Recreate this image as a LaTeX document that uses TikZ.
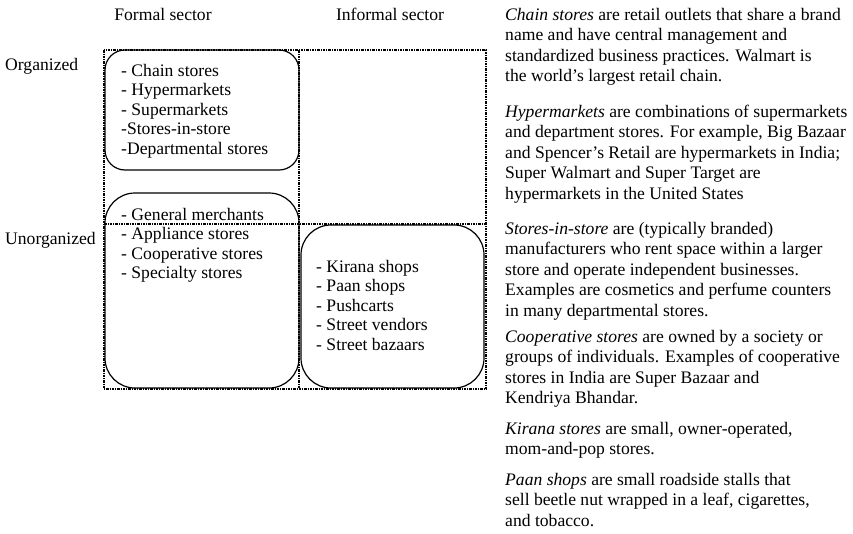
\documentclass[tikz,border=0pt]{standalone}
\usepackage{fontspec}
\setmainfont{Liberation Serif}
\begin{document}
\tikzset{
 gridline/.style={line width=1.1pt, dash pattern=on 2.5pt off 1pt on 1pt off 1pt},
 roundbox/.style={draw, line width=1.2pt, rounded corners=#1, inner sep=0pt, outer sep=0pt},
 listtxt/.style={font=\fontsize{17.6}{19.5}\selectfont, anchor=base west, align=left, inner sep=0pt},
 paratxt/.style={font=\fontsize{17.6}{20.5}\selectfont, anchor=base west, align=left, inner sep=0pt},
 headtxt/.style={font=\fontsize{17.6}{19.5}\selectfont, inner sep=0pt},
}
\begin{tikzpicture}[x=1pt,y=-1pt]
\useasboundingbox (0,0) rectangle (853,533);
% grid
\coordinate (g1) at (104,50);
\coordinate (g2) at (486,389);
\draw[gridline] (g1) rectangle (g2);
\draw[gridline] (299,50) -- (299,389);
\draw[gridline] (104,224) -- (486,224);
% boxes
\node[roundbox=20pt, minimum width=194pt, minimum height=120pt] (b1) at (202,110) {};
\node[roundbox=30pt, minimum width=194pt, minimum height=195pt] (b2) at (202,290.5) {};
\node[roundbox=30pt, minimum width=183pt, minimum height=163pt] (b3) at (392.5,306.5) {};
% lists (anchor = baseline of last line)
\node[listtxt] (l1) at (121,154) {- Chain stores\\- Hypermarkets\\- Supermarkets\\-Stores-in-store\\-Departmental stores};
\node[listtxt] (l2) at (121,278.5) {- General merchants\\- Appliance stores\\- Cooperative stores\\- Specialty stores};
\node[listtxt] (l3) at (316,350) {- Kirana shops\\- Paan shops\\- Pushcarts\\- Street vendors\\- Street bazaars};
% headers
\node[headtxt, anchor=base] (hf) at (163,20) {Formal sector};
\node[headtxt, anchor=base] (hi) at (390,20) {Informal sector};
\node[headtxt, anchor=base west] (ho) at (5,70) {Organized};
\node[headtxt, anchor=base west] (hu) at (5,244) {Unorganized};
% paragraphs
\node[paratxt] (p1) at (505,81.5) {\textit{Chain stores} are retail outlets that share a brand\\name and have central management and\\standardized business practices. Walmart is\\the world’s largest retail chain.};
\node[paratxt] (p2) at (505,199) {\textit{Hypermarkets} are combinations of supermarkets\\and department stores. For example, Big Bazaar\\and Spencer’s Retail are hypermarkets in India;\\Super Walmart and Super Target are\\hypermarkets in the United States};
\node[paratxt] (p3) at (505,316) {\textit{Stores-in-store} are (typically branded)\\manufacturers who rent space within a larger\\store and operate independent businesses.\\Examples are cosmetics and perfume counters\\in many departmental stores.};
\node[paratxt] (p4) at (505,403.5) {\textit{Cooperative stores} are owned by a society or\\groups of individuals. Examples of cooperative\\stores in India are Super Bazaar and\\Kendriya Bhandar.};
\node[paratxt] (p5) at (505,454.5) {\textit{Kirana stores} are small, owner-operated,\\mom-and-pop stores.};
\node[paratxt] (p6) at (505,526) {\textit{Paan shops} are small roadside stalls that\\sell beetle nut wrapped in a leaf, cigarettes,\\and tobacco.};
\end{tikzpicture}
\end{document}
